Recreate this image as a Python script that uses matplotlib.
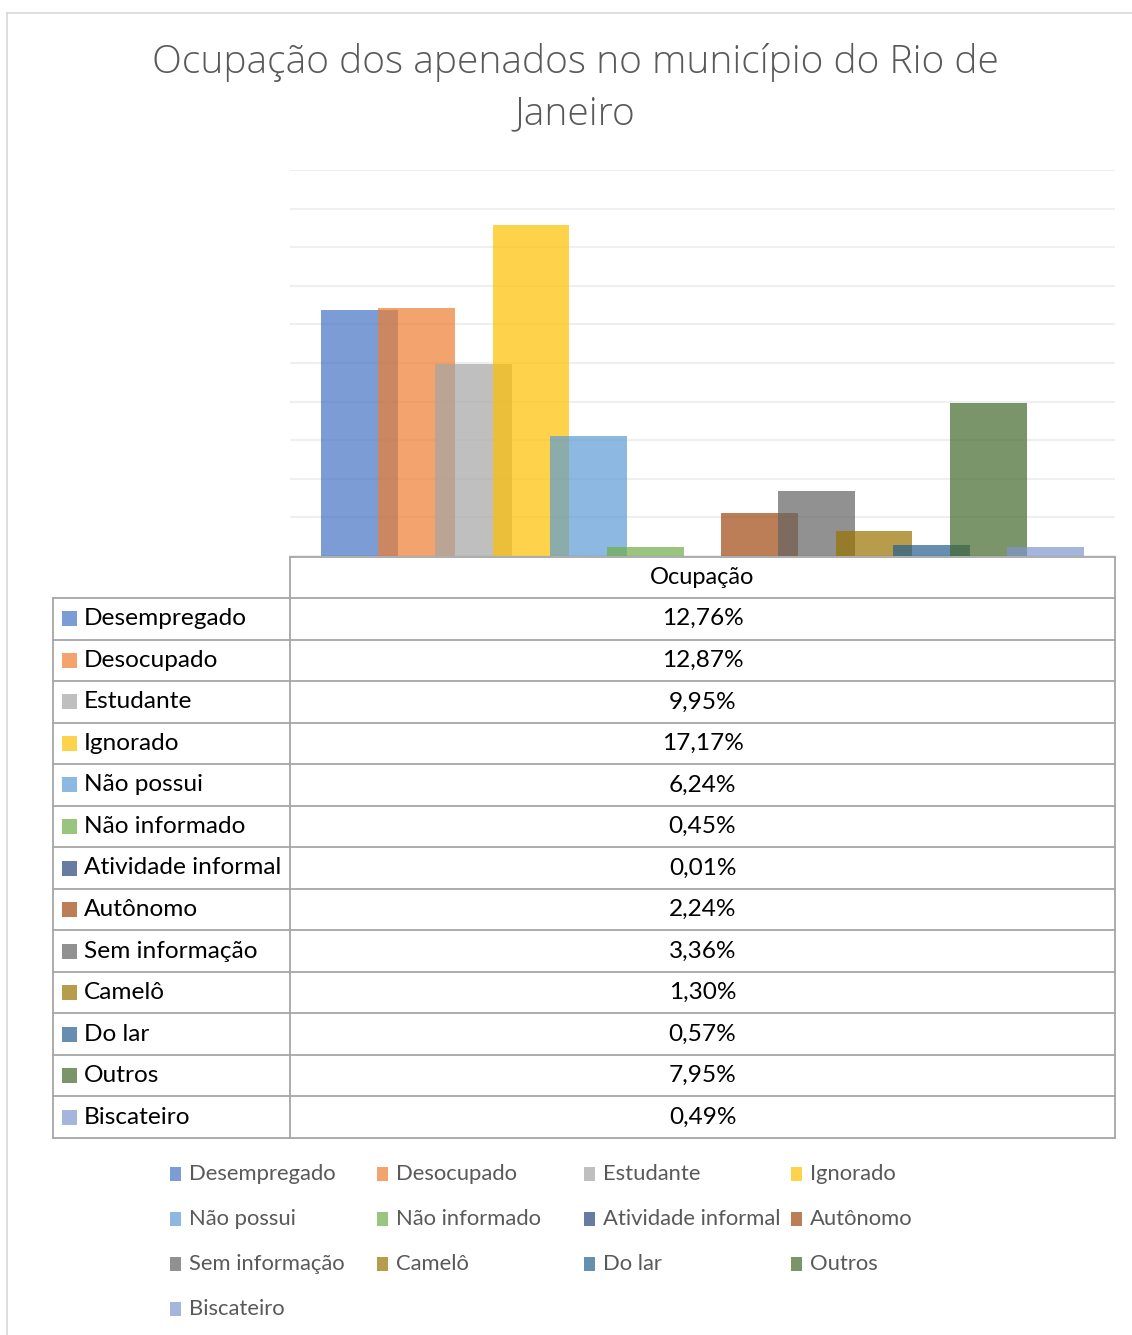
import numpy as np
import matplotlib
matplotlib.use("Agg")
import matplotlib.pyplot as plt
from matplotlib.patches import Rectangle

categories = ["Desempregado", "Desocupado", "Estudante", "Ignorado", "Não possui",
              "Não informado", "Atividade informal", "Autônomo", "Sem informação",
              "Camelô", "Do lar", "Outros", "Biscateiro"]
values = [12.76, 12.87, 9.95, 17.17, 6.24, 0.45, 0.01, 2.24, 3.36, 1.30, 0.57, 7.95, 0.49]
colors = ["#4472C4", "#ED7D31", "#A5A5A5", "#FFC000", "#5B9BD5", "#70AD47", "#264478",
          "#9E480E", "#636363", "#997300", "#255E91", "#43682B", "#7F96CE"]
series_name = "Ocupação"
title = "Ocupação dos apenados no município do Rio de\nJaneiro"

W, H = 1132, 1335
ALPHA = 0.7
LINE = "#A6A6A6"

fig = plt.figure(figsize=(W / 100, H / 100), dpi=100)

# overlay axes in pixel coords for border, table and legend
ov = fig.add_axes([0, 0, 1, 1])
ov.set_xlim(0, W)
ov.set_ylim(H, 0)
ov.axis("off")

# chart area border
ov.plot([7, W], [13, 13], color="#D9D9D9", lw=1.2)
ov.plot([7, 7], [13, H], color="#D9D9D9", lw=1.2)

ov.text(575, 88, title, ha="center", va="center", fontsize=28, color="#595959",
        family="Open Sans", fontweight="light", linespacing=1.42)

# bars
ax = fig.add_axes([290 / W, 1 - 556 / H, 825 / W, 386 / H])
ax.set_facecolor("none")
x = np.arange(len(values))
ax.bar(x, values, width=1.346, color=colors, alpha=ALPHA, zorder=3)
ax.set_xlim(-1.216, len(values) - 1 + 1.216)
ax.set_ylim(0, 20)
ax.set_yticks(np.arange(0, 21, 2))
ax.yaxis.grid(True, color="#EFEFEF", lw=1.5, zorder=0)
ax.tick_params(left=False, bottom=False, labelleft=False, labelbottom=False)
for s in ax.spines.values():
    s.set_visible(False)

# data table
tl, tm, tr = 53, 290, 1115
hdr_top, row_top = 557, 598
rh = (1138 - row_top) / len(categories)
row_bot = row_top + rh * len(categories)

ov.plot([tm, tr], [hdr_top, hdr_top], color=LINE, lw=1.3)
ov.plot([tm, tm], [hdr_top, row_bot], color=LINE, lw=1.3)
ov.plot([tr, tr], [hdr_top, row_bot], color=LINE, lw=1.3)
ov.plot([tl, tl], [row_top, row_bot], color=LINE, lw=1.3)
for i in range(len(categories) + 1):
    yy = row_top + i * rh
    ov.plot([tl, tr], [yy, yy], color=LINE, lw=1.3)

cx = (tm + tr) / 2
ov.text(cx, (hdr_top + row_top) / 2, series_name, ha="center", va="center",
        fontsize=17, color="black", family="Lato")
for i, (cat, val, col) in enumerate(zip(categories, values, colors)):
    yc = row_top + (i + 0.5) * rh
    ov.add_patch(Rectangle((62, yc - 7.5), 15, 15, facecolor=col, alpha=ALPHA, lw=0))
    ov.text(84, yc, cat, ha="left", va="center", fontsize=17.6, color="black", family="Lato")
    ov.text(cx, yc, f"{val:.2f}%".replace(".", ","), ha="center", va="center",
            fontsize=17.6, color="black", family="Lato")

# legend, 4 columns filled row-wise
for i, (cat, col) in enumerate(zip(categories, colors)):
    r, c = divmod(i, 4)
    lx = 170 + 207 * c
    ly = 1174 + 45 * r
    ov.add_patch(Rectangle((lx, ly - 7), 11, 14, facecolor=col, alpha=ALPHA, lw=0))
    ov.text(lx + 19, ly, cat, ha="left", va="center", fontsize=15.8, color="#595959",
            family="Lato")

fig.savefig("out.png", dpi=100)
